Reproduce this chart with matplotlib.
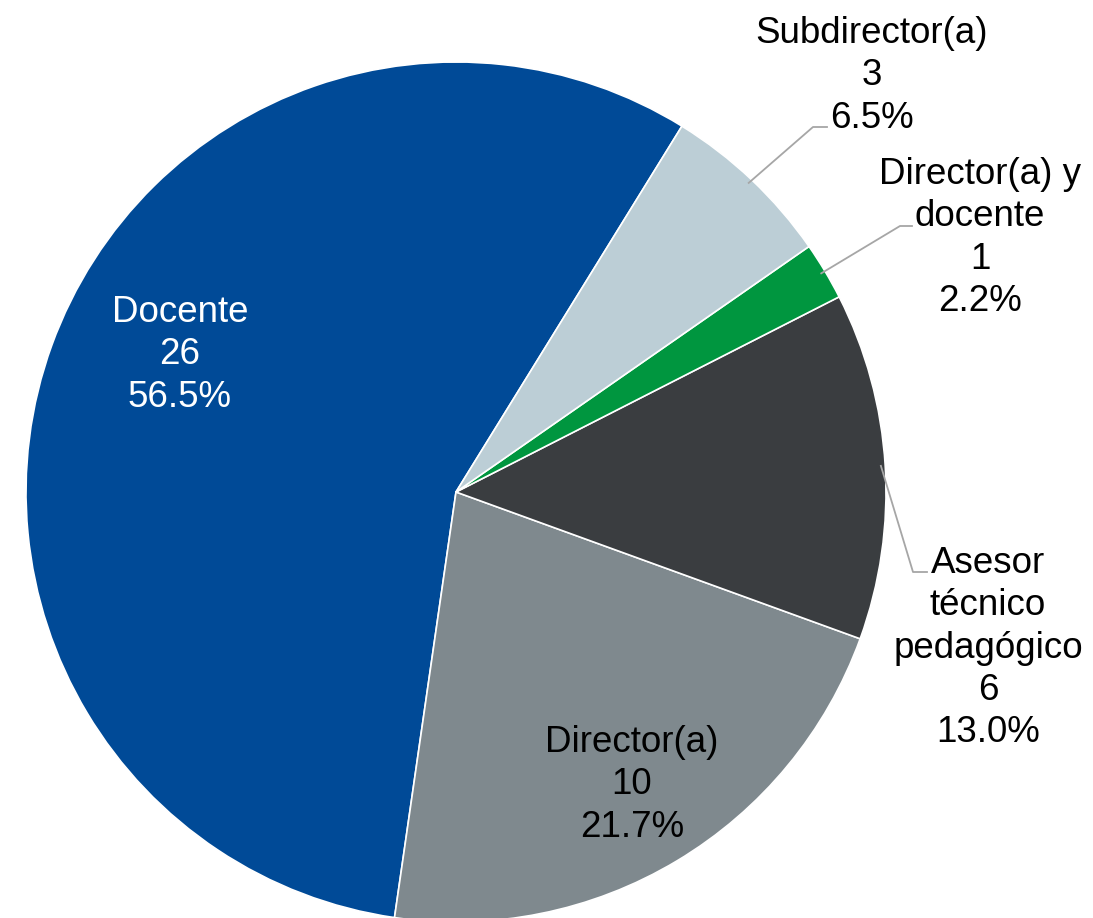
import numpy as np
import matplotlib.pyplot as plt

plt.rcParams['font.family'] = ['Liberation Sans', 'DejaVu Sans']

# Staff role counts
roles = ["Docente", "Director(a)", "Asesor\ntécnico\npedagógico",
         "Director(a) y\ndocente", "Subdirector(a)"]
counts = [26, 10, 6, 1, 3]
colors = ["#004A97", "#7F898E", "#3A3D40", "#00963F", "#BCCED6"]
text_colors = ["white", "black", "black", "black", "black"]

W, H = 1093, 918
cx, cy, R = 456, 492, 430  # pie centre / radius in pixels

fig = plt.figure(figsize=(W / 100, H / 100), dpi=100)
ax = fig.add_axes([0, 0, 1, 1])

wedges, _ = ax.pie(counts, colors=colors, startangle=58.3, counterclock=True,
                   radius=1, wedgeprops=dict(edgecolor="white", linewidth=1.2))
ax.set_aspect("auto")
ax.set_xlim(-cx / R, (W - cx) / R)
ax.set_ylim(-(H - cy) / R, cy / R)
ax.axis("off")


def px(x, y):
    return (x - cx) / R, (cy - y) / R


total = sum(counts)
# label centres (pixels) and leader-line elbows
label_pos = [(180, 355), (632, 785), (988, 648), (980, 238), (872, 76)]
leaders = {2: [(927, 572), (913, 572)],
           3: [(912, 226), (900, 226)],
           4: [(827, 127), (813, 127)]}

for i, (w, n) in enumerate(zip(wedges, counts)):
    txt = f"{roles[i]}\n{n}\n{100 * n / total:.1f}%"
    x, y = px(*label_pos[i])
    ax.text(x, y, txt, ha="center", va="center", multialignment="center",
            fontsize=26.5, color=text_colors[i], linespacing=1.26)
    if i in leaders:
        mid = np.deg2rad((w.theta1 + w.theta2) / 2)
        pts = [px(*p) for p in leaders[i]]
        pts.append((0.99 * np.cos(mid), 0.99 * np.sin(mid)))
        xs, ys = zip(*pts)
        ax.plot(xs, ys, color="#A6A6A6", lw=1.3)

fig.savefig("out.png", dpi=100)
